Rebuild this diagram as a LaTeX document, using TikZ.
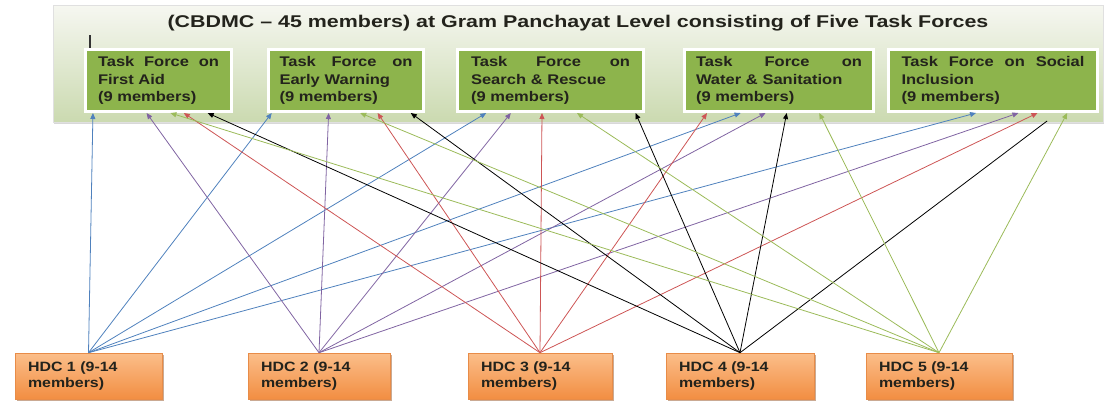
\documentclass[tikz,border=0pt]{standalone}
\usepackage{fontspec}
\newfontfamily\boxfont[FakeStretch=1.18]{Liberation Sans}
\newfontfamily\titlefont[FakeStretch=1.26]{Liberation Sans}
\usetikzlibrary{arrows.meta,calc,shadows}

\definecolor{tfgreen}{RGB}{141,180,76}
\definecolor{panelA}{RGB}{246,247,241}
\definecolor{panelB}{RGB}{203,218,176}
\definecolor{hdctop}{RGB}{251,190,138}
\definecolor{hdcbot}{RGB}{242,142,66}
\definecolor{hdcedge}{RGB}{232,140,72}
\definecolor{hdcshadow}{RGB}{150,85,40}
\definecolor{txtdark}{RGB}{35,35,28}
\definecolor{lblue}{RGB}{79,129,189}
\definecolor{lpurple}{RGB}{128,100,162}
\definecolor{lred}{RGB}{205,85,85}
\definecolor{lgreen}{RGB}{155,187,89}

\begin{document}
\begin{tikzpicture}[x=1pt,y=-1pt]

\tikzset{
    task/.style={fill=tfgreen,draw=white,line width=3pt,minimum height=62pt,
        inner xsep=0pt,inner ysep=0pt,align=left,text=txtdark,
        font=\boxfont\bfseries\fontsize{14}{17.5}\selectfont,
        drop shadow={shadow xshift=1.5pt,shadow yshift=-1.5pt,fill=black!35}},
    hdc/.style={top color=hdctop,bottom color=hdcbot,draw=hdcedge,line width=.6pt,
        minimum height=46pt,inner xsep=13pt,inner ysep=0pt,align=left,text=txtdark,
        font=\boxfont\bfseries\fontsize{13.5}{16}\selectfont,
        drop shadow={shadow xshift=2pt,shadow yshift=-2pt,fill=hdcshadow}},
    link/.style={line width=.8pt,-{Triangle[length=6pt,width=5pt]}}}

\useasboundingbox (0,0) rectangle (1105,408);

\path[top color=panelA,bottom color=panelB,draw=black!12,
    drop shadow={shadow xshift=1pt,shadow yshift=-2pt,fill=black!30}] (53,5) rectangle (1103,122);

\node[anchor=base,text=txtdark,font=\titlefont\bfseries\fontsize{17}{20}\selectfont] (title) at (578,27)
    {(CBDMC – 45 members) at Gram Panchayat Level consisting of Five Task Forces};
\draw[line width=1.2pt,black!80] (90,35) -- (90,48);

\node[task,minimum width=146pt,text width=121pt] (tf1) at (158.5,80.5)
    {\hbox to 121pt{Task\hfill Force\hfill on}\\First Aid\\(9 members)};
\node[task,minimum width=155pt,text width=133pt] (tf2) at (346,80.5)
    {\hbox to 133pt{Task\hfill Force\hfill on}\\Early Warning\\(9 members)};
\node[task,minimum width=186pt,text width=159pt] (tf3) at (550.5,80.5)
    {\hbox to 159pt{Task\hfill Force\hfill on}\\Search \& Rescue\\(9 members)};
\node[task,minimum width=189pt,text width=166pt] (tf4) at (779,80.5)
    {\hbox to 166pt{Task\hfill Force\hfill on}\\Water \& Sanitation\\(9 members)};
\node[task,minimum width=209pt,text width=183pt] (tf5) at (993,80.5)
    {\hbox to 183pt{Task\hfill Force\hfill on\hfill Social}\\Inclusion\\(9 members)};

\node[hdc,minimum width=147pt,text width=121pt] (hdc1) at (88.5,376) {HDC 1 (9-14\\members)};
\node[hdc,minimum width=142pt,text width=116pt] (hdc2) at (319,376) {HDC 2 (9-14\\members)};
\node[hdc,minimum width=144pt,text width=118pt] (hdc3) at (540,376) {HDC 3 (9-14\\members)};
\node[hdc,minimum width=148pt,text width=122pt] (hdc4) at (740,376) {HDC 4 (9-14\\members)};
\node[hdc,minimum width=146pt,text width=120pt] (hdc5) at (939,376) {HDC 5 (9-14\\members)};

\foreach \b/\f in {tf1/.06,tf2/.03,tf3/.16,tf4/.30,tf5/.42}
    \draw[link,lblue] (hdc1.north) -- ($(\b.south west)!\f!(\b.south east)$);
\foreach \b/\f in {tf1/.42,tf2/.39,tf3/.29,tf4/.43,tf5/.62}
    \draw[link,lpurple] (hdc2.north) -- ($(\b.south west)!\f!(\b.south east)$);
\foreach \b/\f in {tf1/.67,tf2/.70,tf3/.455,tf4/.125,tf5/.71}
    \draw[link,lred] (hdc3.north) -- ($(\b.south west)!\f!(\b.south east)$);
\foreach \b/\f in {tf1/.83,tf2/.91,tf3/.95,tf4/.54}
    \draw[link,black] (hdc4.north) -- ($(\b.south west)!\f!(\b.south east)$);
\draw[line width=.8pt,black] (hdc4.north) -- ($(tf5.south west)!.755!(tf5.south east)+(0,8)$);
\foreach \b/\f in {tf1/.58,tf2/.59,tf3/.64,tf4/.71,tf5/.85}
    \draw[link,lgreen] (hdc5.north) -- ($(\b.south west)!\f!(\b.south east)$);

\end{tikzpicture}
\end{document}
